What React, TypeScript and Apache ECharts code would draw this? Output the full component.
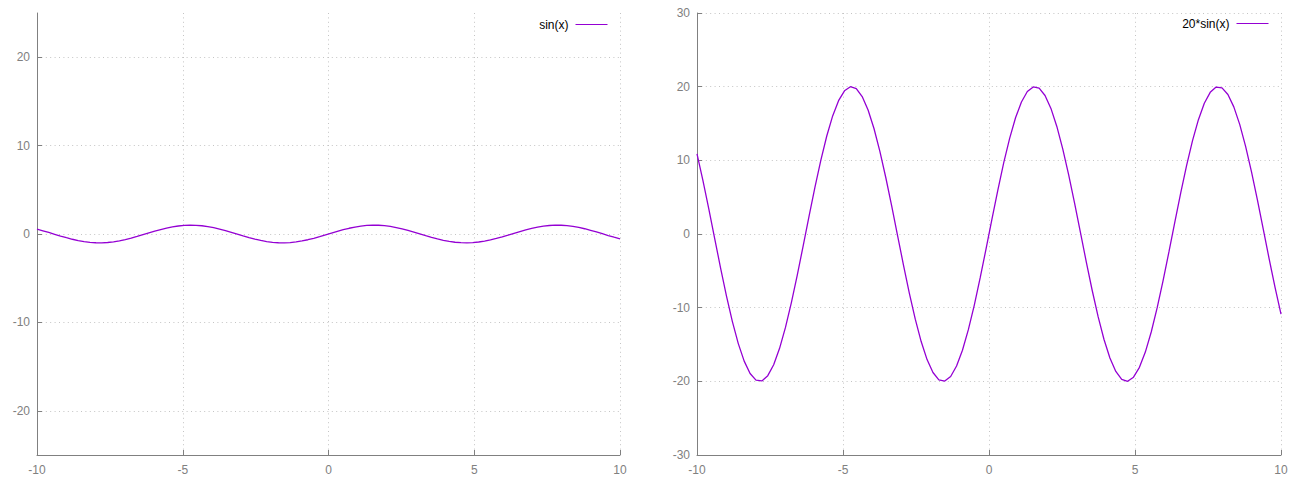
import React, { useEffect, useRef } from "react";
import * as echarts from "echarts";

// Sample positions (100 samples from -10 to 10)
const xs: number[] = [
  -10.0, -9.798, -9.596, -9.394, -9.192, -8.99, -8.788, -8.586, -8.384, -8.182,
  -7.98, -7.778, -7.576, -7.374, -7.172, -6.97, -6.768, -6.566, -6.364, -6.162,
  -5.96, -5.758, -5.556, -5.354, -5.152, -4.949, -4.747, -4.545, -4.343, -4.141,
  -3.939, -3.737, -3.535, -3.333, -3.131, -2.929, -2.727, -2.525, -2.323, -2.121,
  -1.919, -1.717, -1.515, -1.313, -1.111, -0.909, -0.707, -0.505, -0.303, -0.101,
  0.101, 0.303, 0.505, 0.707, 0.909, 1.111, 1.313, 1.515, 1.717, 1.919,
  2.121, 2.323, 2.525, 2.727, 2.929, 3.131, 3.333, 3.535, 3.737, 3.939,
  4.141, 4.343, 4.545, 4.747, 4.949, 5.152, 5.354, 5.556, 5.758, 5.96,
  6.162, 6.364, 6.566, 6.768, 6.97, 7.172, 7.374, 7.576, 7.778, 7.98,
  8.182, 8.384, 8.586, 8.788, 8.99, 9.192, 9.394, 9.596, 9.798, 10.0,
];

// Left panel: sin(x)
const sinValues: number[] = [
  0.544, 0.3646, 0.1704, -0.0309, -0.2308, -0.4213, -0.5947, -0.7439, -0.8629, -0.9468,
  -0.9921, -0.9971, -0.9616, -0.8869, -0.7761, -0.6338, -0.4658, -0.2788, -0.0803, 0.1213,
  0.318, 0.5017, 0.6651, 0.8014, 0.9051, 0.972, 0.9994, 0.9861, 0.9327, 0.8414,
  0.7158, 0.5612, 0.3837, 0.1905, -0.0103, -0.2107, -0.4025, -0.578, -0.7301, -0.8523,
  -0.9399, -0.9893, -0.9985, -0.967, -0.8962, -0.789, -0.6496, -0.4839, -0.2984, -0.1008,
  0.1008, 0.2984, 0.4839, 0.6496, 0.789, 0.8962, 0.967, 0.9985, 0.9893, 0.9399,
  0.8523, 0.7301, 0.578, 0.4025, 0.2107, 0.0103, -0.1905, -0.3837, -0.5612, -0.7158,
  -0.8414, -0.9327, -0.9861, -0.9994, -0.972, -0.9051, -0.8014, -0.6651, -0.5017, -0.318,
  -0.1213, 0.0803, 0.2788, 0.4658, 0.6338, 0.7761, 0.8869, 0.9616, 0.9971, 0.9921,
  0.9468, 0.8629, 0.7439, 0.5947, 0.4213, 0.2308, 0.0309, -0.1704, -0.3646, -0.544,
];

// Right panel: 20*sin(x)
const sin20Values: number[] = [
  10.88, 7.29, 3.41, -0.62, -4.62, -8.43, -11.89, -14.88, -17.26, -18.94,
  -19.84, -19.94, -19.23, -17.74, -15.52, -12.68, -9.32, -5.58, -1.61, 2.43,
  6.36, 10.03, 13.3, 16.03, 18.1, 19.44, 19.99, 19.72, 18.65, 16.83,
  14.32, 11.22, 7.67, 3.81, -0.21, -4.21, -8.05, -11.56, -14.6, -17.05,
  -18.8, -19.79, -19.97, -19.34, -17.92, -15.78, -12.99, -9.68, -5.97, -2.02,
  2.02, 5.97, 9.68, 12.99, 15.78, 17.92, 19.34, 19.97, 19.79, 18.8,
  17.05, 14.6, 11.56, 8.05, 4.21, 0.21, -3.81, -7.67, -11.22, -14.32,
  -16.83, -18.65, -19.72, -19.99, -19.44, -18.1, -16.03, -13.3, -10.03, -6.36,
  -2.43, 1.61, 5.58, 9.32, 12.68, 15.52, 17.74, 19.23, 19.94, 19.84,
  18.94, 17.26, 14.88, 11.89, 8.43, 4.62, 0.62, -3.41, -7.29, -10.88,
];

const leftYTicks: number[] = [-20, -10, 0, 10, 20];
const seriesNames: string[] = ["sin(x)", "20*sin(x)"];

const AXIS_COLOR = "#808080";
const GRID_COLOR = "#c4c4c4";
const LINE_COLOR = "#9400d3";
const FONT = "'Liberation Sans', Arial, sans-serif";

function makeXAxis(gridIndex: number) {
  return {
    type: "value",
    gridIndex,
    min: -10,
    max: 10,
    interval: 5,
    axisLine: { show: true, onZero: false, lineStyle: { color: AXIS_COLOR, width: 1 } },
    axisTick: { show: true, inside: true, length: 5, lineStyle: { color: AXIS_COLOR } },
    axisLabel: { color: AXIS_COLOR, fontSize: 12, fontFamily: FONT, margin: 9 },
    splitLine: { show: true, lineStyle: { color: GRID_COLOR, type: [1, 3.4], width: 1 } },
  };
}

function makeLegend(name: string, right: number, top: number) {
  return {
    data: [name],
    right,
    top,
    align: "right",
    itemWidth: 32,
    itemHeight: 14,
    padding: 0,
    selectedMode: false,
    itemStyle: { borderWidth: 0, opacity: 0 },
    lineStyle: { width: 1, color: LINE_COLOR, cap: "butt" },
    textStyle: { color: "#000", fontSize: 12, fontFamily: FONT, padding: [0, 2, 0, 0] },
  };
}

export default function App() {
  const ref = useRef<HTMLDivElement>(null);
  useEffect(() => {
    if (!ref.current) return;
    const chart = echarts.init(ref.current, undefined, { renderer: "svg" });
    const leftData = xs.map((x, i) => [x, sinValues[i]]);
    const rightData = xs.map((x, i) => [x, sin20Values[i]]);
    chart.setOption({
      animation: false,
      backgroundColor: "#ffffff",
      grid: [
        { left: 37, top: 13, width: 583, height: 442 },
        { left: 697, top: 13, width: 584, height: 442 },
      ],
      legend: [makeLegend(seriesNames[0], 1300 - 608, 18.5), makeLegend(seriesNames[1], 1300 - 1269, 17.5)],
      xAxis: [makeXAxis(0), makeXAxis(1)],
      yAxis: [
        {
          type: "value",
          gridIndex: 0,
          min: -25,
          max: 25,
          axisLine: { show: true, onZero: false, lineStyle: { color: AXIS_COLOR, width: 1 } },
          axisTick: {
            show: true,
            inside: true,
            length: 5,
            customValues: leftYTicks,
            lineStyle: { color: AXIS_COLOR },
          },
          axisLabel: {
            color: AXIS_COLOR,
            fontSize: 12,
            fontFamily: FONT,
            margin: 7,
            customValues: leftYTicks,
          },
          splitLine: { show: true, lineStyle: { color: GRID_COLOR, type: [1, 3.4], width: 1 } },
        },
        {
          type: "value",
          gridIndex: 1,
          min: -30,
          max: 30,
          interval: 10,
          axisLine: { show: true, onZero: false, lineStyle: { color: AXIS_COLOR, width: 1 } },
          axisTick: { show: true, inside: true, length: 5, lineStyle: { color: AXIS_COLOR } },
          axisLabel: { color: AXIS_COLOR, fontSize: 12, fontFamily: FONT, margin: 7 },
          splitLine: { show: true, lineStyle: { color: GRID_COLOR, type: [1, 3.4], width: 1 } },
        },
      ],
      series: [
        {
          name: seriesNames[0],
          type: "line",
          xAxisIndex: 0,
          yAxisIndex: 0,
          data: leftData,
          showSymbol: false,
          symbol: "none",
          color: LINE_COLOR,
          lineStyle: { color: LINE_COLOR, width: 1.3 },
        },
        {
          name: seriesNames[1],
          type: "line",
          xAxisIndex: 1,
          yAxisIndex: 1,
          data: rightData,
          showSymbol: false,
          symbol: "none",
          color: LINE_COLOR,
          lineStyle: { color: LINE_COLOR, width: 1.3 },
        },
      ],
    });
    return () => chart.dispose();
  }, []);
  return (
    <div
      ref={ref}
      style={{ position: "fixed", left: 0, top: 0, width: 1300, height: 480, background: "#fff" }}
    />
  );
}
